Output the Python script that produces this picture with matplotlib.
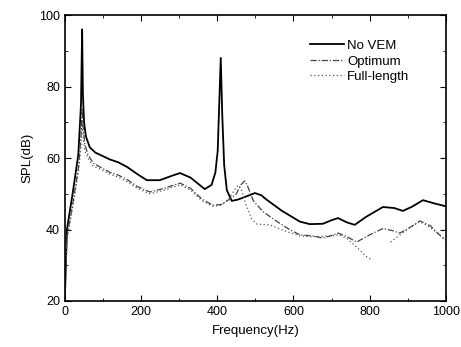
import numpy as np
import matplotlib
matplotlib.use("Agg")
from matplotlib import pyplot as plt
from matplotlib.ticker import MultipleLocator

plt.rcParams['font.family'] = ['Liberation Sans', 'DejaVu Sans']

# No VEM (solid)
f_novem = [0, 5, 20, 35, 42, 45, 47, 50, 55, 65, 80, 100, 118, 140, 163, 190, 215, 249,
           280, 302, 330, 367, 385, 395, 401, 405, 409, 413, 418, 425, 438, 455, 477, 499,
           515, 530, 570, 617, 643, 677, 700, 717, 740, 761, 790, 835, 865, 887, 910, 940,
           970, 1000]
spl_novem = [22, 40, 50, 61, 75, 96, 78, 70, 66, 63, 61.5, 60.5, 59.6, 58.8, 57.5, 55.5, 53.8, 53.8,
             55, 55.8, 54.5, 51.3, 52.5, 56, 62, 75, 88, 72, 58, 51, 48, 48.4, 49.3, 50.2,
             49.6, 48.3, 45.2, 42.2, 41.5, 41.6, 42.6, 43.2, 42, 41.3, 43.5, 46.3, 46, 45.2, 46.3, 48.2,
             47.3, 46.5]

# Optimum (dash-dot)
f_opt = [0, 5, 20, 35, 42, 45, 48, 52, 60, 74, 90, 118, 140, 163, 190, 223, 260, 302, 330,
         360, 388, 410, 433, 450, 462, 472, 480, 495, 520, 560, 591, 617, 650, 677, 700, 717,
         740, 766, 800, 835, 860, 879, 905, 932, 960, 992, 1000]
spl_opt = [22, 38, 47, 57, 66, 74, 68, 64, 61, 58.6, 57.6, 56, 55.2, 54, 52, 50.5, 51.5, 53, 51.5,
           48.5, 46.8, 47, 48.5, 50, 52.5, 53.6, 52, 48, 45, 42, 39.9, 38.5, 38.2, 37.6, 38.3, 39,
           38, 36.5, 38.5, 40.3, 39.7, 39, 40.5, 42.4, 41, 37.6, 37]

# Full-length (dotted), gap between ~805 and ~855 Hz
f_full = [0, 5, 20, 35, 42, 45, 48, 52, 60, 74, 90, 118, 140, 163, 190, 223, 260, 302, 330,
          360, 388, 410, 430, 445, 454, 462, 475, 490, 504, 538, 580, 617, 650, 700, 720,
          740, 766, 790, 805, 830, 855, 880, 905, 932, 960, 992, 1000]
spl_full = [22, 37, 46, 56, 63, 70, 66, 62, 60, 57.8, 57, 55.5, 54.6, 53.4, 51.5, 50, 51, 52.5, 51,
            48, 46.5, 46.8, 48.5, 51, 52.4, 51.5, 47, 43, 41.5, 41.3, 39.5, 38.2, 38, 38.2, 38.5,
            37.5, 35.1, 32.5, 31.5, np.nan, 36.5, 38.5, 40.5, 42.2, 40.5, 37.8, 37.2]

fig = plt.figure(figsize=(4.61, 3.47), dpi=100)
ax = fig.add_axes([0.141, 0.1326, 0.826, 0.824])

ax.plot(f_novem, spl_novem, color='black', lw=1.3, label='No VEM')
ax.plot(f_opt, spl_opt, color='#444444', lw=0.9, ls=(0, (5, 1.5, 1, 1.5)), label='Optimum')
ax.plot(f_full, spl_full, color='#555555', lw=0.9, ls=(0, (1, 2)), label='Full-length')

ax.set_xlim(0, 1000)
ax.set_ylim(20, 100)
ax.xaxis.set_major_locator(MultipleLocator(200))
ax.xaxis.set_minor_locator(MultipleLocator(100))
ax.yaxis.set_major_locator(MultipleLocator(20))
ax.yaxis.set_minor_locator(MultipleLocator(10))
ax.tick_params(which='both', direction='in', top=True, right=True, labelsize=9)
ax.tick_params(which='major', length=4)
ax.tick_params(which='minor', length=2)
for s in ax.spines.values():
    s.set_linewidth(1.2)

ax.set_xlabel('Frequency(Hz)', fontsize=9.5, labelpad=5)
ax.set_ylabel('SPL(dB)', fontsize=9.5, labelpad=4)

ax.legend(loc='upper right', bbox_to_anchor=(0.935, 0.955), frameon=False, fontsize=9.5,
          handlelength=2.6, handletextpad=0.2, labelspacing=0.25)

fig.savefig('out.png', dpi=100)
